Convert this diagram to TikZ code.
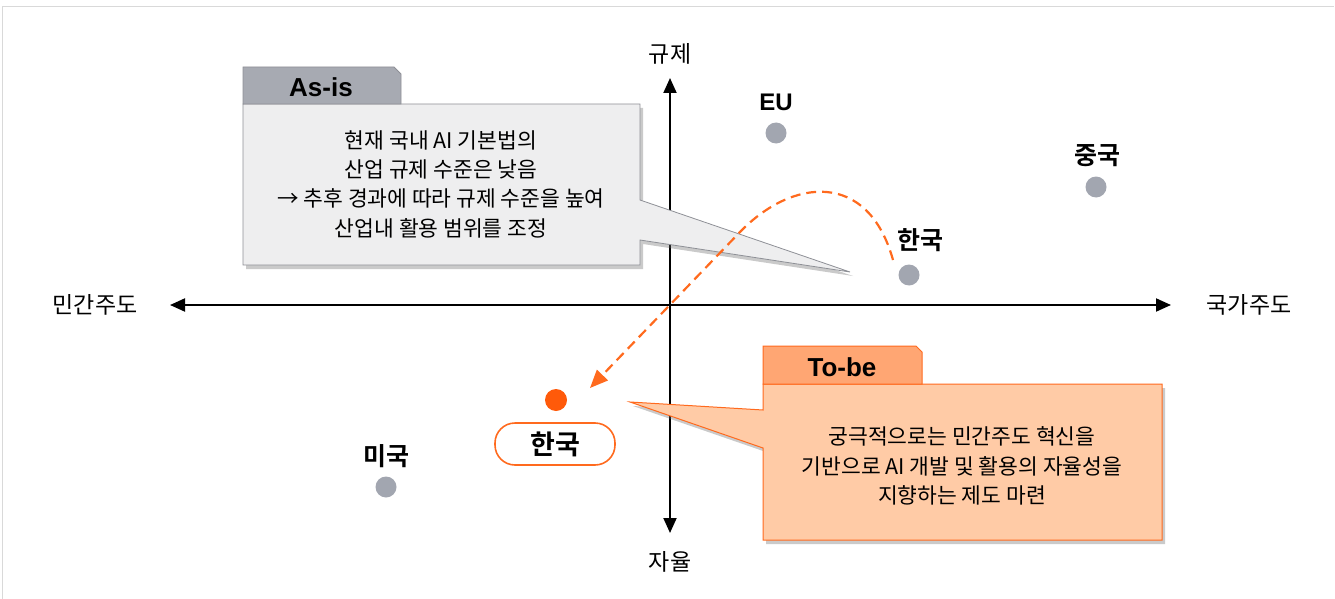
\documentclass[tikz,border=0pt]{standalone}
\usepackage{fontspec}
\setmainfont{Noto Sans CJK KR}
\newfontfamily\krb{Noto Sans CJK KR Bold}
\newfontfamily\arb{Liberation Sans}
\usetikzlibrary{arrows.meta,shadows,calc}
\definecolor{dotgray}{HTML}{A2A6B0}
\definecolor{orng}{HTML}{FF5A0A}
\definecolor{orngline}{HTML}{FF6A1E}
\definecolor{tobefill}{HTML}{FFCBA6}
\definecolor{tobetab}{HTML}{FFA673}
\definecolor{asisfill}{HTML}{EEEEEF}
\definecolor{asistab}{HTML}{A7AAB2}
\definecolor{asisline}{HTML}{8E9096}
\tikzset{
  axis/.style={line width=2pt,{Triangle[length=15pt,width=13pt]}-{Triangle[length=15pt,width=13pt]}},
  dotg/.style={circle,fill=dotgray,minimum size=21pt,inner sep=0pt},
  lbl/.style={font=\krb\fontsize{25pt}{28pt}\selectfont,inner sep=0pt},
  axlbl/.style={font=\fontsize{23pt}{26pt}\selectfont,inner sep=0pt},
  body/.style={font=\fontsize{21.5pt}{29.3pt}\selectfont,align=center,inner sep=0pt},
  tabtxt/.style={font=\arb\bfseries\fontsize{26pt}{30pt}\selectfont,inner sep=0pt},
  shad/.style={drop shadow={shadow xshift=3pt,shadow yshift=-4pt,opacity=0.35,fill=black!60}},
}
\begin{document}
\begin{tikzpicture}[x=1pt,y=-1pt]
\useasboundingbox (0,0) rectangle (1335,599);
\draw[black!15,line width=1pt] (2,7) -- (1334,7);
\draw[black!15,line width=1pt] (2,7) -- (2,599);
% axes
\coordinate (L) at (170,305);
\coordinate (R) at (1171,305);
\coordinate (T) at (670,78);
\coordinate (B) at (670,533);
\draw[axis] (L) -- (R);
\draw[axis] (B) -- (T);
\node[axlbl] (ny) at (670,54) {규제};
\node[axlbl] (nz) at (670,562) {자율};
\node[axlbl] (nm) at (95,305) {민간주도};
\node[axlbl] (ng) at (1249,305) {국가주도};
% As-is callout
\draw[asisline,fill=asisfill,line width=0.8pt,shad]
  (243,104) -- (640,104) -- (640,200) -- (850,272) -- (640,240) -- (640,265) -- (243,265) -- cycle;
\draw[asisline,fill=asistab,line width=0.8pt]
  (243,104) -- (243,67) -- (394,67) -- (401,74) -- (401,104) -- cycle;
\node[tabtxt] (asis) at (321,87) {As-is};
\node[body] (asistext) at (441,184) {현재 국내 AI 기본법의\\산업 규제 수준은 낮음\\→ 추후 경과에 따라 규제 수준을 높여\\산업내 활용 범위를 조정};
% To-be callout
\draw[orngline,fill=tobefill,line width=1pt,shad]
  (763,384) -- (1162,384) -- (1162,540) -- (763,540) -- (763,448) -- (630,402) -- (763,410) -- cycle;
\draw[orngline,fill=tobetab,line width=1pt]
  (763,384) -- (763,346) -- (916,346) -- (922,352) -- (922,384) -- cycle;
\node[tabtxt] (tobe) at (842,367) {To-be};
\node[body] (tobetext) at (962,466) {궁극적으로는 민간주도 혁신을\\기반으로 AI 개발 및 활용의 자율성을\\지향하는 제도 마련};
% dots
\node[dotg] (eu) at (776,133) {};
\node[tabtxt,font=\arb\bfseries\fontsize{24pt}{28pt}\selectfont] (eul) at (776,102) {EU};
\node[dotg] (cn) at (1096,187) {};
\node[lbl] (cnl) at (1097,156) {중국};
\node[dotg] (kr) at (909,275) {};
\node[lbl] (krl) at (920,240) {한국};
\node[dotg] (us) at (386,487) {};
\node[lbl] (usl) at (386,456) {미국};
\node[circle,fill=orng,minimum size=22pt,inner sep=0pt] (kr2) at (556,400) {};
\node[draw=orngline,line width=1.6pt,rounded corners=20pt,minimum width=120pt,minimum height=42pt,font=\krb\fontsize{27pt}{30pt}\selectfont,inner sep=0pt] (kr2l) at (555,444) {한국};
% dashed trajectory
\coordinate (ps) at (893,260);
\coordinate (pk) at (740,232);
\coordinate (pe) at (590,388);
\draw[orngline,line width=2.2pt,dash pattern=on 10pt off 6pt,-{Triangle[length=18pt,width=15pt]}]
  (ps) .. controls (868,170) and (792,178) .. (pk) -- (pe);
\end{tikzpicture}
\end{document}
